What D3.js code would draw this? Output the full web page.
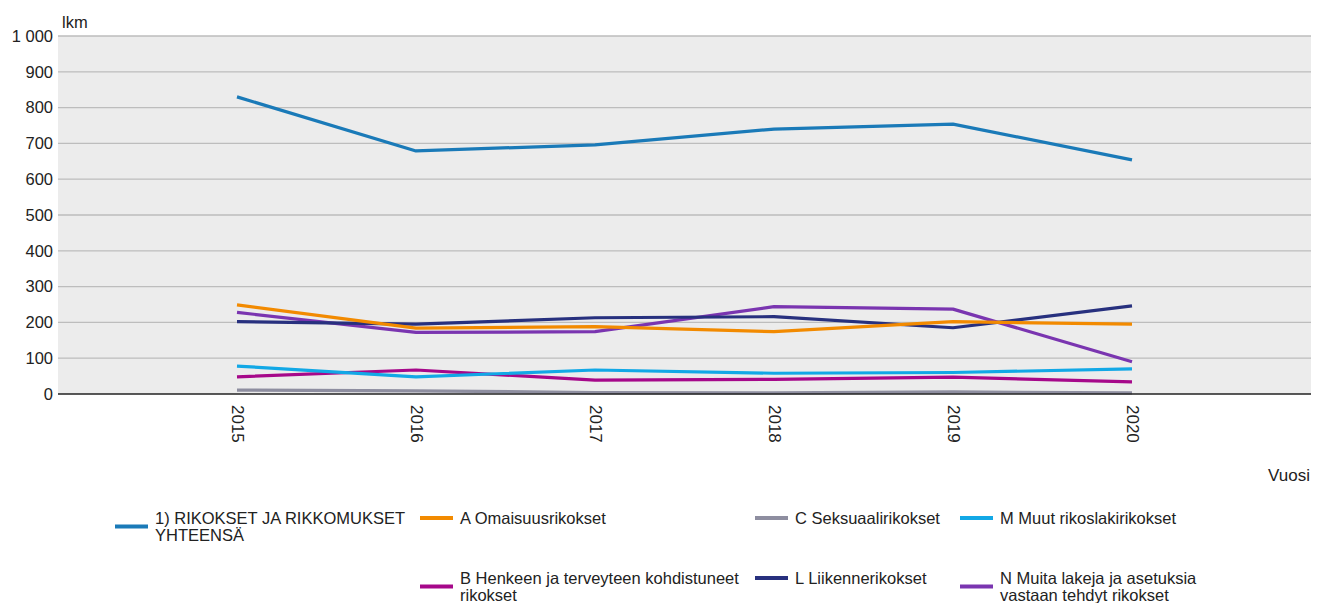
<!DOCTYPE html>
<html><head><meta charset="utf-8">
<script src="https://cdn.jsdelivr.net/npm/d3@7"></script>
<style>body{margin:0;background:#fff}text{font-family:"Liberation Sans",Arial,sans-serif}</style>
</head><body><svg id="c" width="1324" height="603"></svg>
<script>
const years = ["2015","2016","2017","2018","2019","2020"];
const yTicks = [0,100,200,300,400,500,600,700,800,900,1000];
const seriesNames = [
  "1) RIKOKSET JA RIKKOMUKSET YHTEENSÄ",
  "A Omaisuusrikokset",
  "C Seksuaalirikokset",
  "M Muut rikoslakirikokset",
  "B Henkeen ja terveyteen kohdistuneet rikokset",
  "L Liikennerikokset",
  "N Muita lakeja ja asetuksia vastaan tehdyt rikokset"
];
const legendLines = [
  ["1) RIKOKSET JA RIKKOMUKSET","YHTEENSÄ"],
  ["A Omaisuusrikokset"],
  ["C Seksuaalirikokset"],
  ["M Muut rikoslakirikokset"],
  ["B Henkeen ja terveyteen kohdistuneet","rikokset"],
  ["L Liikennerikokset"],
  ["N Muita lakeja ja asetuksia","vastaan tehdyt rikokset"]
];
const colors = ["#1a7ab8","#f28a00","#8e8ea0","#12a8e6","#a6088a","#27307e","#7a35b0"];
const vTotal = [830,679,696,740,754,654];
const vA = [249,184,188,174,202,195];
const vC = [11,9,4,3,6,3];
const vM = [78,48,67,58,60,70];
const vB = [48,67,39,41,47,34];
const vL = [202,195,213,216,185,246];
const vN = [228,172,174,244,237,90];
const values = [vTotal,vA,vC,vM,vB,vL,vN];

const svg = d3.select("#c");
const L = 58, R = 1311, T = 36, B = 394;
const x = d3.scalePoint().domain(years).range([L,R]).padding(1);
const y = d3.scaleLinear().domain([0,1000]).range([B,T]);

svg.append("rect").attr("x",L).attr("y",T).attr("width",R-L).attr("height",B-T).attr("fill","#ececec");
svg.append("g").selectAll("line").data(yTicks.filter(d=>d>0)).join("line")
  .attr("x1",L).attr("x2",R).attr("y1",d=>y(d)).attr("y2",d=>y(d))
  .attr("stroke","#bdbdbd").attr("stroke-width",1.3);

const fmt = d => d3.format(",")(d).replace(/,/g," ");
const ya = svg.append("g").attr("transform",`translate(${L},0)`)
  .call(d3.axisLeft(y).tickValues(yTicks).tickFormat(fmt).tickSize(0).tickPadding(5));
ya.select(".domain").remove();
ya.selectAll("text").attr("font-size",16.5).attr("fill","#222").attr("font-family","Liberation Sans, Arial, sans-serif");

const line = d3.line().x((d,i)=>x(years[i])).y(d=>y(d));
const order = [2,4,3,6,5,1,0];
svg.append("g").selectAll("path").data(order).join("path")
  .attr("d",k=>line(values[k])).attr("fill","none")
  .attr("stroke",k=>colors[k]).attr("stroke-width",3.2).attr("stroke-linejoin","round");

svg.append("line").attr("x1",L).attr("x2",R).attr("y1",B).attr("y2",B).attr("stroke","#222").attr("stroke-width",1.5);

const xa = svg.append("g").attr("transform",`translate(0,${B})`)
  .call(d3.axisBottom(x).tickSize(0).tickPadding(0));
xa.select(".domain").remove();
xa.selectAll("text").attr("font-size",17).attr("fill","#222")
  .attr("font-family","Liberation Sans, Arial, sans-serif")
  .attr("transform","translate(0,11) rotate(90)").attr("text-anchor","start")
  .attr("dy","0.35em").attr("y",0).attr("x",0);

svg.append("text").attr("x",62).attr("y",28).attr("font-size",16.5).attr("fill","#222").text("lkm");
svg.append("text").attr("x",1310).attr("y",481).attr("font-size",17).attr("fill","#222").attr("text-anchor","end").text("Vuosi");

const colX = [115,420,755,960];
const rowY = [518,578];
const lg = svg.append("g");
seriesNames.forEach((n,i)=>{
  const col = i<4 ? i : i-3;
  const row = i<4 ? 0 : 1;
  const lines = legendLines[i];
  const g = lg.append("g").attr("transform",`translate(${colX[col]},${rowY[row]})`);
  const sy = lines.length>1 ? 8.5 : 0;
  g.append("line").attr("x1",0).attr("x2",33).attr("y1",sy).attr("y2",sy).attr("stroke",colors[i]).attr("stroke-width",4);
  lines.forEach((t,j)=>{
    g.append("text").attr("x",40).attr("y",j*17).attr("dy","0.35em").attr("font-size",16.5).attr("fill","#222").text(t);
  });
});
</script></body></html>
